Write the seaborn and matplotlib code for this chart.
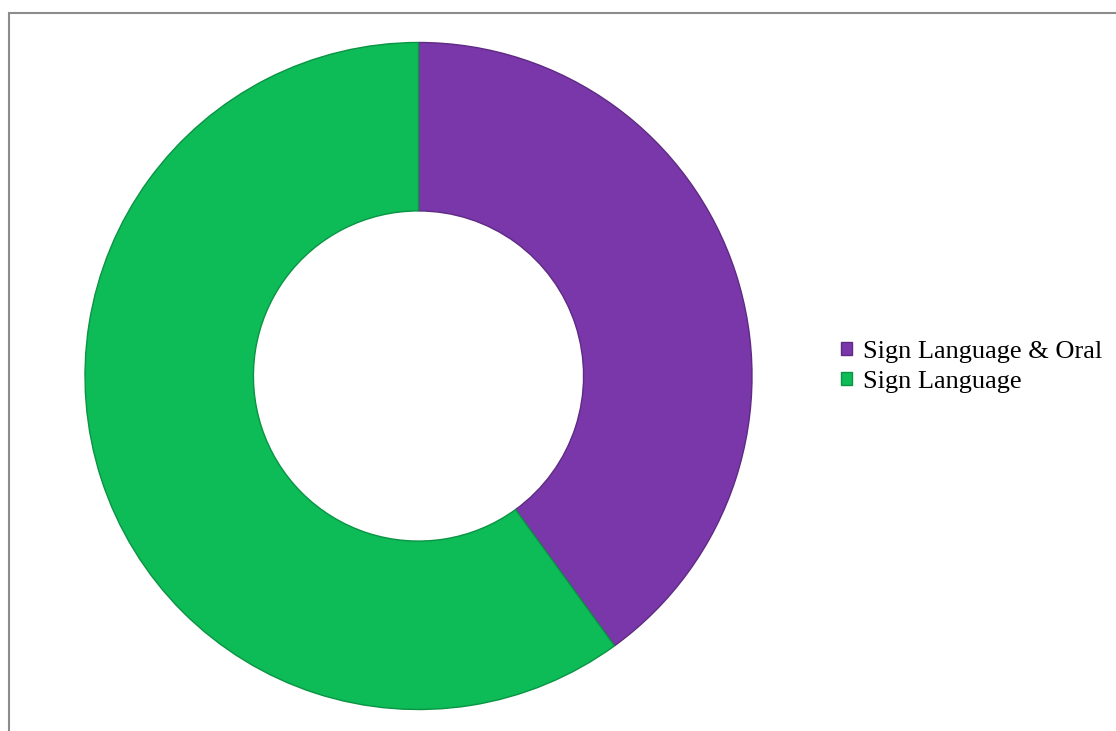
import matplotlib
matplotlib.use("Agg")
import matplotlib.pyplot as plt
import seaborn as sns
from matplotlib.patches import Rectangle

categories = ["Sign Language & Oral", "Sign Language"]
values = [40, 60]
colors = ["#7A37A9", "#0DBB57"]
edges = ["#5E2A84", "#0A9444"]

sns.set_theme(style="white")
plt.rcParams['font.family'] = ['Liberation Serif', 'DejaVu Serif']
plt.rcParams['text.color'] = 'black'

W, H = 1116, 731
fig = plt.figure(figsize=(W/100, H/100), dpi=100)
fig.patch.set_facecolor("white")

# outer frame
fig.add_artist(Rectangle((9/W, -0.01), 1.2, 1 - 13/H + 0.01, transform=fig.transFigure,
                         fill=False, edgecolor="#8C8C8C", linewidth=1.5))

cx, cy, r = 418.5, 376, 333.5
ax = fig.add_axes([(cx - r)/W, (H - cy - r)/H, 2*r/W, 2*r/H])
wedges, _ = ax.pie(values, colors=colors, startangle=90, counterclock=False,
                   radius=1.0, wedgeprops=dict(width=0.505, linewidth=1.0))
for w, ec in zip(wedges, edges):
    w.set_edgecolor(ec)
ax.set_xlim(-1, 1)
ax.set_ylim(-1, 1)
ax.set_aspect("equal")
ax.axis("off")

leg = fig.legend(wedges, categories, loc="center left",
                 bbox_to_anchor=(841/W, (H - 367)/H), frameon=False,
                 fontsize=19, handlelength=0.42, handleheight=0.42,
                 handletextpad=0.42, labelspacing=0.3,
                 borderpad=0, borderaxespad=0, labelcolor="black")
plt.savefig("out.png", dpi=100, facecolor="white")
